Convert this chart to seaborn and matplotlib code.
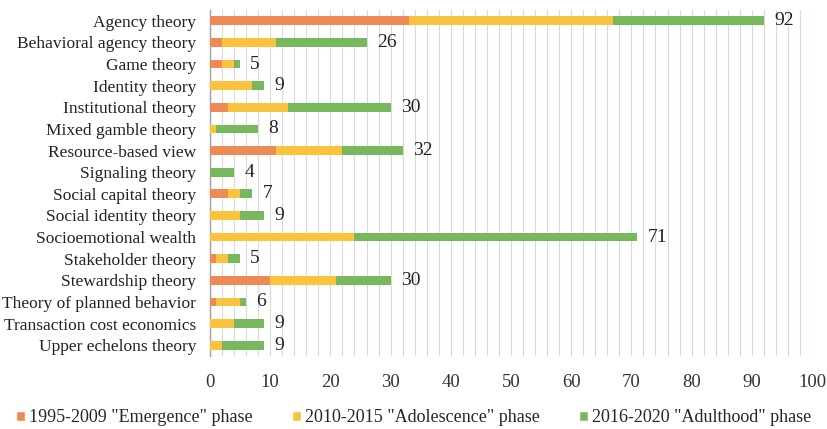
import matplotlib
matplotlib.use("Agg")
import matplotlib.pyplot as plt
import seaborn as sns
import numpy as np
import pandas as pd
from matplotlib.ticker import MultipleLocator
from matplotlib.patches import Patch

categories = ["Agency theory", "Behavioral agency theory", "Game theory", "Identity theory",
              "Institutional theory", "Mixed gamble theory", "Resource-based view",
              "Signaling theory", "Social capital theory", "Social identity theory",
              "Socioemotional wealth", "Stakeholder theory", "Stewardship theory",
              "Theory of planned behavior", "Transaction cost economics", "Upper echelons theory"]
emergence = [33, 2, 2, 0, 3, 0, 11, 0, 3, 0, 0, 1, 10, 1, 0, 0]
adolescence = [34, 9, 2, 7, 10, 1, 11, 0, 2, 5, 24, 2, 11, 4, 4, 2]
adulthood = [25, 15, 1, 2, 17, 7, 10, 4, 2, 4, 47, 2, 9, 1, 5, 7]
series_names = ['1995-2009 "Emergence" phase', '2010-2015 "Adolescence" phase', '2016-2020 "Adulthood" phase']
colors = ["#EE8A55", "#F9C33E", "#78B85C"]

df = pd.DataFrame({"cat": categories, "e": emergence, "a": adolescence, "d": adulthood})
df["c1"] = df["e"]
df["c2"] = df["e"] + df["a"]
df["c3"] = df["c2"] + df["d"]

sns.set_style("white")
plt.rcParams["font.family"] = ["Liberation Serif", "DejaVu Serif"]

fig = plt.figure(figsize=(8.27, 4.29), dpi=100)
ax = fig.add_axes([210/827, 1 - 356/429, 602/827, 346/429])

for col, c in zip(["c3", "c2", "c1"], colors[::-1]):
    sns.barplot(data=df, x=col, y="cat", color=c, width=0.4, orient="h",
                ax=ax, saturation=1, linewidth=0, zorder=3)

for i, tot in enumerate(df["c3"]):
    ax.text(tot + 1.7, i, str(tot), va="center", ha="left", fontsize=14, color="#222222")

ax.set_xlim(0, 100)
ax.set_ylim(15.5, -0.5)
ax.xaxis.set_major_locator(MultipleLocator(10))
ax.xaxis.set_minor_locator(MultipleLocator(2))
ax.grid(axis="x", which="both", color="#D9D9D9", linewidth=0.8, zorder=0)
ax.set_axisbelow(True)
ax.set_xlabel("")
ax.set_ylabel("")
for s in ["top", "right", "bottom"]:
    ax.spines[s].set_visible(False)
ax.spines["left"].set_color("#A0A0A0")
ax.spines["left"].set_linewidth(1.0)
ax.tick_params(axis="x", which="both", length=0, pad=13, labelsize=13.5, colors="#333333")
ax.tick_params(axis="y", length=0, pad=10, labelsize=12.5, colors="#222222")

handles = [Patch(facecolor=c, label=n) for c, n in zip(colors, series_names)]
fig.legend(handles=handles, loc="center", bbox_to_anchor=(0.5, 1 - 418/429), ncol=3,
           frameon=False, fontsize=13, handlelength=0.5, handleheight=0.5,
           handletextpad=0.2, columnspacing=2.2)

fig.savefig("out.png", dpi=100)
